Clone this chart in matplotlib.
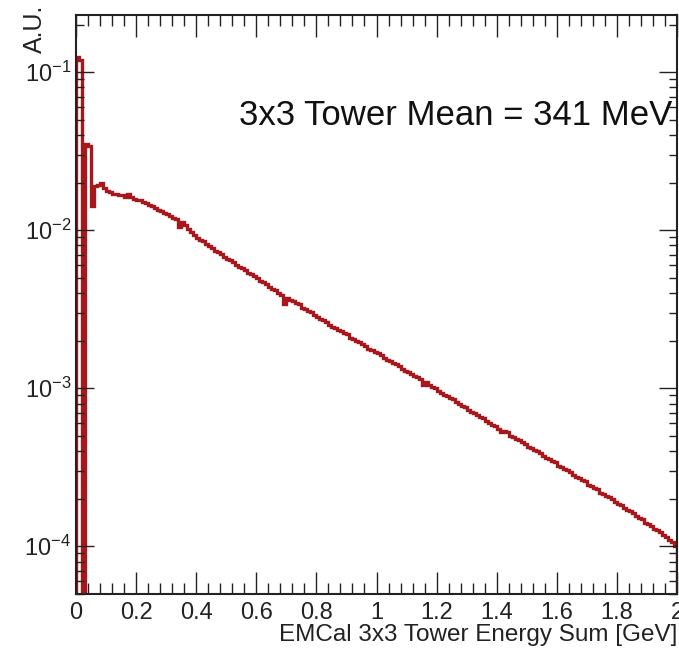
import numpy as np
import matplotlib
matplotlib.use("Agg")
from matplotlib import pyplot as plt
from matplotlib.ticker import MultipleLocator, LogLocator, NullFormatter

# low-energy region, 0.01 GeV bins from 0 to 0.1 (A.U.)
low_vals = [0.125, 0.12, 1e-7, 0.035, 0.034, 0.0142, 0.019, 0.0192, 0.0198, 0.0185]

# main region, 0.01 GeV bins from 0.1 to 2.0 (log10 of A.U.), one row per 0.1 GeV
main_log = [
    -1.75, -1.76, -1.77, -1.77, -1.78, -1.78, -1.79, -1.77, -1.79, -1.80,
    -1.81, -1.81, -1.82, -1.83, -1.84, -1.85, -1.86, -1.87, -1.88, -1.89,
    -1.90, -1.91, -1.92, -1.93, -1.98, -1.95, -1.97, -1.99, -2.01, -2.03,
    -2.05, -2.06, -2.07, -2.09, -2.10, -2.11, -2.13, -2.14, -2.15, -2.17,
    -2.18, -2.19, -2.20, -2.22, -2.23, -2.24, -2.25, -2.27, -2.28, -2.29,
    -2.30, -2.32, -2.33, -2.34, -2.36, -2.37, -2.38, -2.40, -2.41, -2.47,
    -2.43, -2.44, -2.45, -2.46, -2.47, -2.49, -2.50, -2.51, -2.52, -2.54,
    -2.55, -2.56, -2.57, -2.58, -2.60, -2.61, -2.62, -2.63, -2.64, -2.65,
    -2.66, -2.68, -2.69, -2.70, -2.71, -2.72, -2.73, -2.75, -2.76, -2.77,
    -2.78, -2.79, -2.81, -2.82, -2.83, -2.84, -2.85, -2.86, -2.88, -2.89,
    -2.90, -2.91, -2.92, -2.93, -2.94, -2.98, -2.96, -2.98, -2.99, -3.00,
    -3.02, -3.03, -3.04, -3.05, -3.06, -3.07, -3.09, -3.10, -3.11, -3.12,
    -3.14, -3.15, -3.16, -3.17, -3.18, -3.19, -3.21, -3.22, -3.23, -3.24,
    -3.26, -3.28, -3.27, -3.28, -3.30, -3.31, -3.32, -3.33, -3.34, -3.35,
    -3.37, -3.38, -3.39, -3.40, -3.41, -3.43, -3.44, -3.45, -3.46, -3.47,
    -3.49, -3.50, -3.51, -3.52, -3.53, -3.55, -3.56, -3.57, -3.58, -3.59,
    -3.61, -3.62, -3.63, -3.64, -3.66, -3.67, -3.68, -3.69, -3.70, -3.72,
    -3.73, -3.74, -3.76, -3.77, -3.78, -3.79, -3.81, -3.82, -3.83, -3.85,
    -3.86, -3.87, -3.89, -3.90, -3.91, -3.93, -3.94, -3.96, -3.97, -4.00,
]

xtick_labels = ['0', '0.2', '0.4', '0.6', '0.8', '1', '1.2', '1.4', '1.6', '1.8', '2']

values = np.concatenate([low_vals, 10.0 ** np.array(main_log)])
edges = np.linspace(0.0, 2.0, len(values) + 1)

plt.rcParams['font.family'] = ['Liberation Sans', 'DejaVu Sans']
plt.rcParams['mathtext.default'] = 'regular'

fig = plt.figure(figsize=(6.79, 6.49), dpi=100)
ax = fig.add_axes([0.112, 0.085, 0.885, 0.892])

ax.stairs(values, edges, baseline=1e-7, color='#a8171b', linewidth=2.4)

ax.set_yscale('log')
ax.set_xlim(0, 2)
ax.set_ylim(5e-5, 0.23)

ax.set_xticks(np.arange(0, 2.01, 0.2))
ax.set_xticklabels(xtick_labels)
ax.xaxis.set_minor_locator(MultipleLocator(0.04))
ax.yaxis.set_major_locator(LogLocator(base=10, numticks=10))
ax.yaxis.set_minor_locator(LogLocator(base=10, subs=np.arange(2, 10), numticks=20))
ax.yaxis.set_minor_formatter(NullFormatter())

ax.tick_params(which='both', direction='in', top=True, right=True, labelsize=17, colors='#222222')
ax.tick_params(axis='x', which='major', length=16, width=1.0, pad=6)
ax.tick_params(axis='x', which='minor', length=8, width=1.0)
ax.tick_params(axis='y', which='major', length=13, width=1.0)
ax.tick_params(axis='y', which='minor', length=6, width=1.0)
for s in ax.spines.values():
    s.set_linewidth(1.5)
    s.set_color('#222222')

ax.text(0.992, 0.827, '3x3 Tower Mean = 341 MeV', transform=ax.transAxes,
        ha='right', va='center', fontsize=25, color='#111111')

ax.set_xlabel('EMCal 3x3 Tower Energy Sum [GeV]', fontsize=17.5, ha='right', x=1.0,
              labelpad=0, color='#222222')
fig.text(0.052, 0.993, 'A.U.', rotation=90, ha='center', va='top', fontsize=18, color='#222222')

fig.savefig('out.png', dpi=100)
